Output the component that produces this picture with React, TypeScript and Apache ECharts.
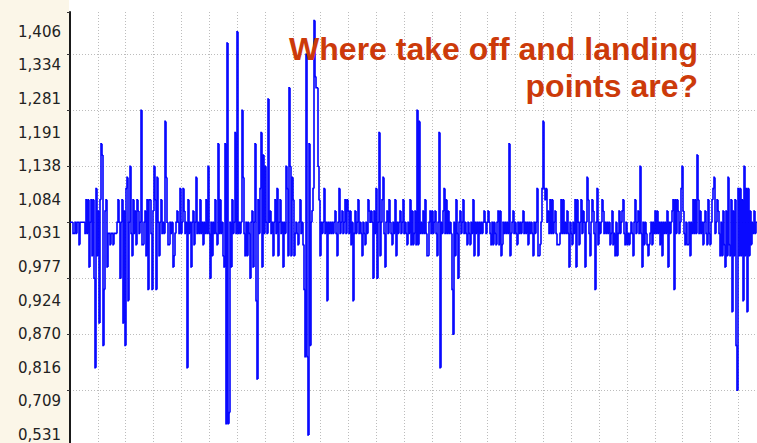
import React, { useEffect, useRef } from "react";
import * as echarts from "echarts";

// Level alphabet: each character is one quantised sample level (0 .. 37)
const LEVEL_CODES = "0123456789ABCDEFGHIJKLMNOPQRSTUVWXYZab";

// Tick labels, bottom to top, one every 3 levels
const yTickLabels = [
  "0,531", "0,709", "0,816", "0,870", "0,924", "0,977", "1,031",
  "1,084", "1,138", "1,191", "1,281", "1,334", "1,406",
];

const titleLines = ["Where take off and landing", "points are?"];

// Samples, one per pixel column, in groups of 10
const samples000 = ["JJJIIJIJJH", "JJJJJILILF", "JLGLE6MGKA", "LQP8DKLFII", "HIIHIIIJLJ"];
const samples050 = ["EJLAK8MNCJ", "OIGLIKHLKI", "JTHHJKGLDL", "LIDKOLDNJG", "JLIJISNJHH"];
const samples100 = ["JIJFGIJKJI", "MIJMKIJ6LI", "JFJKHJNIJI", "LIJHJILIOI", "EJGJILIHQI"];
const samples150 = ["LIJGFQ1Z12", "JFLIJRIaIJ", "IJTNIGJGJI", "EJKFJQC5LI", "MRFPIOJIUJ"];
const samples200 = ["KIJGJLIMGJ", "LIJFJIOMGV", "OGNLGIJIHJ", "LIJHD7Y70Q", "8JKMbWVVOL"];
const samples250 = ["GJIJMIJCJI", "JIJIJKIGJM", "IJKIJLILKI", "KHJCIKIJLI", "JIGJIHJILK"];
const samples300 = ["JKJEKIMEJR", "GJLNIFJKIL", "JIHJILGJIJ", "KIJLIJIHJI", "LHKHIKHTHS"];
const samples350 = ["IJIKILIGGJ", "KIKIJKIGJR", "6JIKMILIKI", "JID9JGLIEJ", "KIJLIJIHJI"];
const samples400 = ["HJILGJIJGJ", "IJIJKJIJKJ", "IHJHJIHJKH", "KGHJIJIJIQ", "GIJKIJIHJI"];
const samples450 = ["JIJKIJIJHJ", "IJIGJIJMGG", "HJMSMLMJKI", "LILIJKIHHH", "ILILIJIKIF"];
const samples500 = ["JIHJILFLJH", "JLIKJFJNLI", "GJLKIDJMHJ", "IJLKIJIJIJ", "HIKHIGJGIK"];
const samples550 = ["IJKLIHJHIH", "IJIGJLIJKI", "OIFJHJIHGH", "IJHJIKIKIJ", "HJGJIJIKFJ"];
const samples600 = ["IJKLDLILKI", "JMOKIHJHHJ", "GJILILIPLI", "KIJHJKIHLI", "HJLMNIJLKI"];
const samples650 = ["GJGKHFKGNH", "GLBKGL84MG", "MGLCOGMBMG", "KHJIKIJ"];

const allChunks = [
  samples000, samples050, samples100, samples150, samples200, samples250, samples300,
  samples350, samples400, samples450, samples500, samples550, samples600, samples650,
];

// Each item: [sample index, level, previous level] -> drawn as a step
function buildSeries(): [number, number, number][] {
  const levels: number[] = [];
  for (const chunk of allChunks) {
    for (const ch of chunk.join("")) {
      const lv = LEVEL_CODES.indexOf(ch);
      if (lv >= 0) levels.push(lv);
    }
  }
  return levels.map((lv, i) => [i, lv, i > 0 ? levels[i - 1] : lv]);
}

export default function App() {
  const ref = useRef<HTMLDivElement>(null);

  useEffect(() => {
    if (!ref.current) return;
    const chart = echarts.init(ref.current, undefined, { renderer: "svg" });
    const data = buildSeries();
    const unit = 11.2; // px per level
    const topLevel = (435 - 12) / unit;

    const gridLine = { color: "#bcbcbc", width: 1, type: [1, 2] as number[] };

    chart.setOption({
      animation: false,
      grid: { left: 70, right: 0, top: 12, bottom: 443 - (435 + 6 * unit), outerBoundsMode: "none" },
      xAxis: {
        type: "value",
        min: 0,
        max: 687,
        interval: 27.85,
        axisLine: { show: false },
        axisTick: { show: false },
        axisLabel: { show: false },
        splitLine: { show: true, showMinLine: false, showMaxLine: false, lineStyle: gridLine },
      },
      yAxis: [
        {
          type: "value",
          min: -6,
          max: topLevel,
          interval: 3,
          position: "left",
          axisLine: { show: true, onZero: false, lineStyle: { color: "#1a1a1a", width: 2 } },
          axisTick: { show: false },
          splitLine: { show: false },
          axisLabel: {
            showMaxLabel: false,
            color: "#222222",
            fontFamily: "DejaVu Sans",
            fontSize: 15,
            margin: 9,
            formatter: (val: number) => {
              const k = Math.round(val / 3);
              if (Math.abs(val - k * 3) < 1e-6 && k >= 0 && k < yTickLabels.length) return yTickLabels[k];
              return "";
            },
          },
        },
        {
          type: "value",
          min: -5,
          max: topLevel + 1,
          interval: 5,
          position: "left",
          axisLine: { show: false, onZero: false },
          axisLabel: { show: false },
          axisTick: { show: true, length: 3, lineStyle: { color: "#333333" } },
          splitLine: { show: true, showMinLine: false, showMaxLine: false, lineStyle: gridLine },
        },
      ],
      graphic: {
        elements: [
          {
            type: "rect",
            z: 0,
            left: 0,
            top: 0,
            shape: { x: 0, y: 0, width: 69, height: 443 },
            style: { fill: "#fbf6e8" },
            silent: true,
          },
          {
            type: "text",
            x: 698,
            y: 49,
            z: 10,
            style: {
              text: titleLines[0],
              font: 'bold 32px "Liberation Sans", Arial, sans-serif',
              fill: "#cc3a0a",
              textAlign: "right",
              textVerticalAlign: "middle",
            },
          },
          {
            type: "text",
            x: 698,
            y: 86,
            z: 10,
            style: {
              text: titleLines[1],
              font: 'bold 32px "Liberation Sans", Arial, sans-serif',
              fill: "#cc3a0a",
              textAlign: "right",
              textVerticalAlign: "middle",
            },
          },
        ],
      },
      series: [
        {
          type: "custom",
          yAxisIndex: 0,
          data,
          encode: { x: 0, y: 1 },
          silent: true,
          clip: true,
          z: 3,
          renderItem: (params: any, api: any) => {
            const i = api.value(0);
            const cur = api.value(1);
            const prev = api.value(2);
            const p0 = api.coord([i, prev]);
            const p1 = api.coord([i, cur]);
            const p2 = api.coord([i + 1, cur]);
            return {
              type: "polyline",
              shape: { points: [p0, p1, p2] },
              style: { stroke: "#0000ff", lineWidth: 1.6, fill: "none", lineJoin: "miter" },
            };
          },
        },
      ],
    });

    return () => chart.dispose();
  }, []);

  return (
    <div
      ref={ref}
      style={{ position: "fixed", left: 0, top: 0, width: 757, height: 443, background: "#ffffff" }}
    />
  );
}
